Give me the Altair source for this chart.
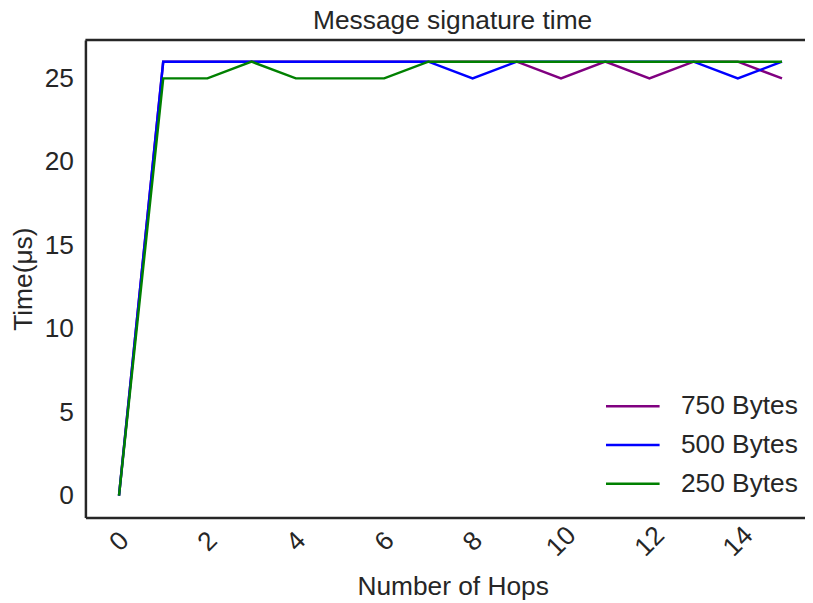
import altair as alt
import pandas as pd

hops = list(range(16))
series_names = ["750 Bytes", "500 Bytes", "250 Bytes"]
series_colors = ["#800080", "#0000ff", "#008000"]
t750 = [0, 26, 26, 26, 26, 26, 26, 26, 26, 26, 25, 26, 25, 26, 26, 25]
t500 = [0, 26, 26, 26, 26, 26, 26, 26, 25, 26, 26, 26, 26, 26, 25, 26]
t250 = [0, 25, 25, 26, 25, 25, 25, 26, 26, 26, 26, 26, 26, 26, 26, 26]
x_ticks = [0, 2, 4, 6, 8, 10, 12, 14]
y_ticks = [0, 5, 10, 15, 20, 25]

rows = []
for name, vals in zip(series_names, [t750, t500, t250]):
    for h, v in zip(hops, vals):
        rows.append({"hops": h, "time": v, "series": name, "order": series_names.index(name)})
df = pd.DataFrame(rows)

FONT = "Liberation Sans"
TXT = "#262626"
FS = 26.5
W, H = 725, 481

lines = alt.Chart(df).mark_line(strokeWidth=2.5).encode(
    x=alt.X("hops:Q", scale=alt.Scale(domain=[-0.76, 15.52], nice=False, zero=False),
            axis=alt.Axis(values=x_ticks, title="Number of Hops", grid=False, ticks=False,
                          labelAngle=315, labelAlign="center", labelBaseline="middle",
                          labelPadding=24, titleX=370, titleY=78, titleBaseline="alphabetic",
                          titleAnchor="start", titleAlign="center")),
    y=alt.Y("time:Q", scale=alt.Scale(domain=[-1.3, 27.3], nice=False, zero=False),
            axis=alt.Axis(values=y_ticks, title="Time(μs)", grid=False, ticks=False,
                          labelPadding=12, labelBaseline="middle", titlePadding=7)),
    color=alt.Color("series:N", scale=alt.Scale(domain=series_names, range=series_colors),
                    legend=alt.Legend(title=None, orient="none", legendX=536.5, legendY=354,
                                      symbolType="M-2,0H2", symbolSize=729, symbolStrokeWidth=2.5,
                                      labelOffset=33.5, rowPadding=10, padding=0,
                                      labelFontSize=FS, labelFont=FONT, labelColor=TXT)),
    detail="series:N",
    order="order:Q",
)

top_spine = alt.Chart(pd.DataFrame({"a": [0]})).mark_rule(color=TXT, strokeWidth=2.5).encode(
    y=alt.value(0)
)

chart = alt.layer(lines, top_spine).properties(
    width=W, height=H,
    title=alt.Title("Message signature time", font=FONT, fontSize=FS, fontWeight="normal",
                    color=TXT, offset=4, dx=7.5),
    autosize=alt.AutoSizeParams(type="none"),
    padding={"left": 78, "top": 30, "right": 0, "bottom": 82},
).configure_view(stroke=None).configure_axis(
    domainColor=TXT, domainWidth=2.5, labelFont=FONT, labelFontSize=FS, labelColor=TXT,
    titleFont=FONT, titleFontSize=FS, titleColor=TXT, titleFontWeight="normal",
)

chart.save("out.html", embed_options={"renderer": "svg", "actions": False})
